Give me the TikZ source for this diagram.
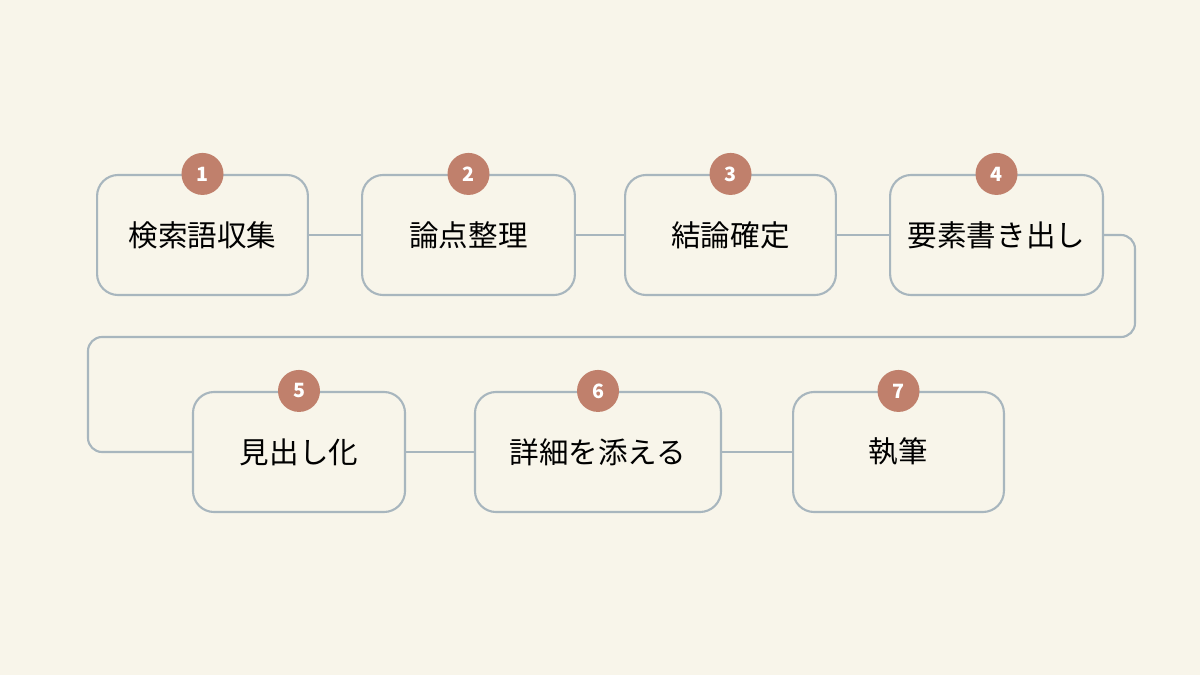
\documentclass[tikz,border=0pt]{standalone}
\usepackage{fontspec}
\setmainfont{Noto Sans CJK JP}
\definecolor{paper}{HTML}{F8F5EA}
\definecolor{edge}{HTML}{A8B6BE}
\definecolor{badge}{HTML}{C0806C}
\begin{document}
\begin{tikzpicture}[x=0.025cm, y=-0.025cm]
    % Styles
    \tikzset{
        stage/.style={rectangle, draw=edge, line width=1.5pt, fill=paper, rounded corners=15pt, minimum height=3cm, font=\fontsize{21}{25}\selectfont},
        num/.style={circle, fill=badge, minimum size=1.05cm, inner sep=0pt, text=white, font=\fontsize{14}{16}\selectfont\bfseries},
        link/.style={draw=edge, line width=1.5pt}
    }
    \fill[paper] (0,0) rectangle (1200,675);
    \useasboundingbox (0,0) rectangle (1200,675);

    % --- Steps ---
    \node[stage, minimum width=5.27cm] (s1) at (202.5,235) {検索語収集};
    \node[stage, minimum width=5.32cm] (s2) at (468.5,235) {論点整理};
    \node[stage, minimum width=5.27cm] (s3) at (730.5,235) {結論確定};
    \node[stage, minimum width=5.32cm] (s4) at (996.5,235) {要素書き出し};
    \node[stage, minimum width=5.3cm] (s5) at (299,452) {見出し化};
    \node[stage, minimum width=6.15cm] (s6) at (598,452) {詳細を添える};
    \node[stage, minimum width=5.27cm] (s7) at (898.5,452) {執筆};

    % --- Connections ---
    \coordinate (r1) at (1135,337);
    \coordinate (r2) at (88,337);
    \draw[link] (s1) -- (s2);
    \draw[link] (s2) -- (s3);
    \draw[link] (s3) -- (s4);
    \draw[link, rounded corners=10pt] (s4.east) -| (r1) -- (r2) |- (s5.west);
    \draw[link] (s5) -- (s6);
    \draw[link] (s6) -- (s7);

    % --- Badges ---
    \foreach \i in {1,...,7}
        \node[num] at (s\i.north) {\i};
\end{tikzpicture}
\end{document}
